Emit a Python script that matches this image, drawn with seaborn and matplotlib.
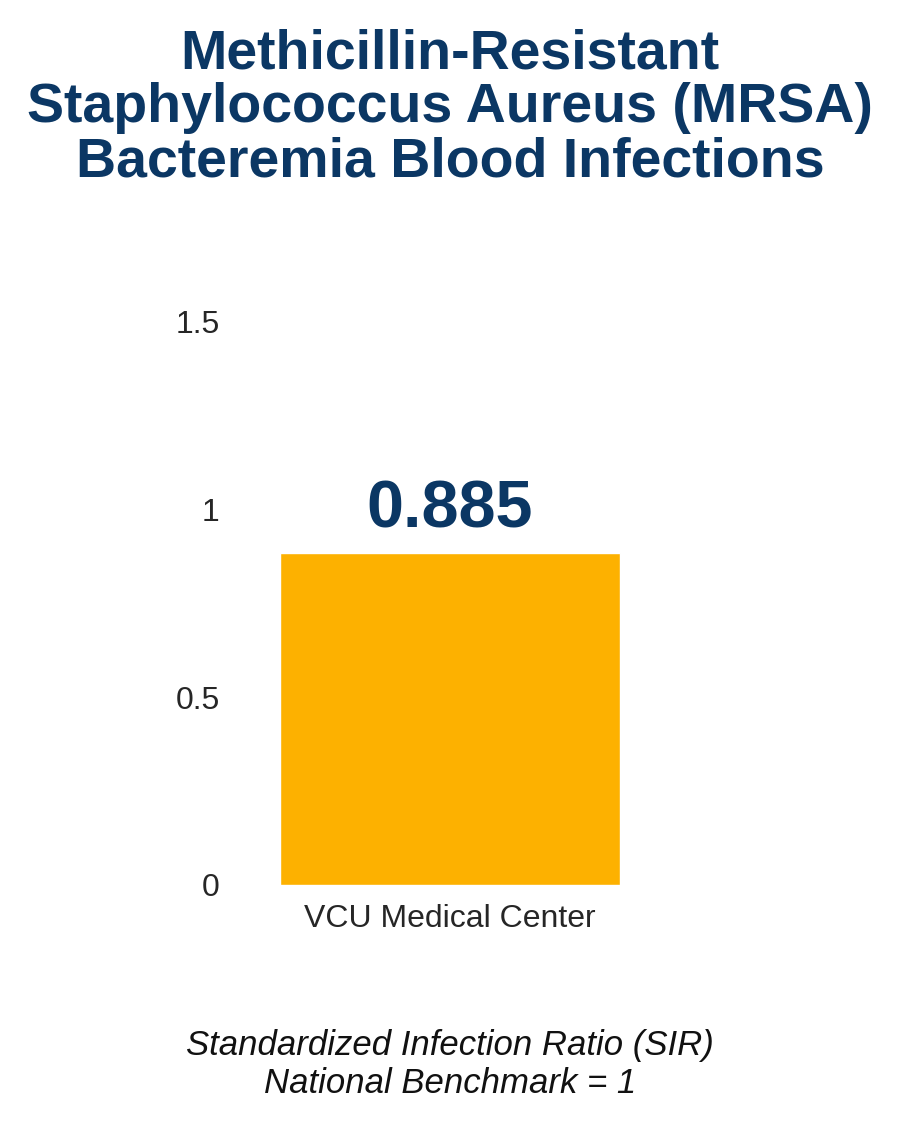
import matplotlib
matplotlib.use('Agg')
import matplotlib.pyplot as plt
import seaborn as sns
import pandas as pd

sns.set_style('white')
plt.rcParams['font.family'] = ['Liberation Sans Narrow', 'Liberation Sans', 'DejaVu Sans']

categories = ['VCU Medical Center']
sir_values = [0.885]
yticks = [0, 0.5, 1, 1.5]
ytick_labels = ['0', '0.5', '1', '1.5']

navy = '#0b3764'
gold = '#fdb100'

df = pd.DataFrame({'site': categories, 'sir': sir_values})

fig = plt.figure(figsize=(9, 11.4), dpi=100)
ax = fig.add_axes([0.278, 0.2237, 0.444, 0.494])
sns.barplot(data=df, x='site', y='sir', color=gold, width=0.85, saturation=1, ax=ax)
ax.set_xlim(-0.5, 0.5)
ax.set_ylim(0, 1.5)
ax.set_yticks(yticks)
ax.set_yticklabels(ytick_labels)
ax.tick_params(axis='y', labelsize=23, pad=22, length=0)
ax.tick_params(axis='x', labelsize=23, pad=14, length=0)
ax.set_xlabel('')
ax.set_ylabel('')
sns.despine(ax=ax, left=True, bottom=True)

for i, v in enumerate(sir_values):
    ax.text(i, v + 0.03, f'{v:.3f}', ha='center', va='bottom',
            fontsize=48, fontweight='bold', color=navy)

fig.text(0.5, 0.975, 'Methicillin-Resistant\nStaphylococcus Aureus (MRSA)\nBacteremia Blood Infections',
         ha='center', va='top', fontsize=40, fontweight='bold', color=navy, linespacing=1.05)
fig.text(0.5, 0.035, 'Standardized Infection Ratio (SIR)\nNational Benchmark = 1',
         ha='center', va='bottom', fontsize=25, style='italic', color='#111111', linespacing=1.2)

fig.savefig('out.png', dpi=100)
